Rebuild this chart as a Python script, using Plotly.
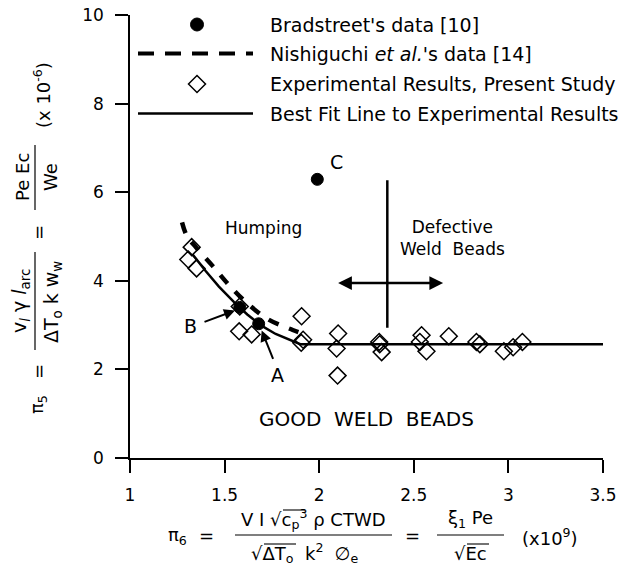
import plotly.graph_objects as go

# ---------------- data ----------------
brad_x = [1.58, 1.68, 1.99]
brad_y = [3.40, 3.03, 6.29]

nishi_x = [1.275, 1.30, 1.35, 1.44, 1.53, 1.62, 1.73, 1.86, 1.89]
nishi_y = [5.32, 5.02, 4.75, 4.32, 3.87, 3.49, 3.13, 2.89, 2.84]

exp_x = [1.326, 1.308, 1.352, 1.58, 1.577, 1.643, 1.907, 1.915, 1.905,
         2.10, 2.092, 2.097, 2.317, 2.32, 2.33, 2.541, 2.532, 2.567,
         2.685, 2.831, 2.849, 2.976, 3.025, 3.074]
exp_y = [4.76, 4.48, 4.28, 3.42, 2.86, 2.79, 3.20, 2.67, 2.60,
         2.81, 2.47, 1.86, 2.62, 2.57, 2.39, 2.77, 2.62, 2.41,
         2.75, 2.62, 2.57, 2.41, 2.50, 2.62]

fit_x = [1.33, 1.40, 1.47, 1.55, 1.62, 1.69, 1.77, 1.85, 1.90, 3.50]
fit_y = [4.60, 4.22, 3.87, 3.52, 3.24, 3.00, 2.80, 2.65, 2.57, 2.57]

x_ticks = [1, 1.5, 2, 2.5, 3, 3.5]
x_ticktext = ["1", "1.5", "2", "2.5", "3", "3.5"]
y_ticks = [0, 2, 4, 6, 8, 10]
y_ticktext = ["0", "2", "4", "6", "8", "10"]

legend_labels = ["Bradstreet's data [10]",
                 "Nishiguchi <i>et al.</i>'s data [14]",
                 "Experimental Results, Present Study",
                 "Best Fit Line to Experimental Results"]

FONT = "DejaVu Sans"
W, H = 633, 576
L, R, T, B = 130, 30, 15, 118
PW, PH = W - L - R, H - T - B


def P(px, py):
    """pixel -> paper coordinates"""
    return (px - L) / PW, (H - B - py) / PH


fig = go.Figure()

fig.add_trace(go.Scatter(x=nishi_x, y=nishi_y, mode="lines",
                         line=dict(color="black", width=4.5, dash="11px,11px", shape="spline"),
                         showlegend=False, hoverinfo="skip"))
fig.add_trace(go.Scatter(x=fit_x, y=fit_y, mode="lines",
                         line=dict(color="black", width=2.5),
                         showlegend=False, hoverinfo="skip"))
fig.add_trace(go.Scatter(x=exp_x, y=exp_y, mode="markers",
                         marker=dict(symbol="diamond-open", size=13, color="black",
                                     line=dict(width=1.5, color="black")),
                         showlegend=False, hoverinfo="skip"))
fig.add_trace(go.Scatter(x=brad_x, y=brad_y, mode="markers",
                         marker=dict(symbol="circle", size=12, color="black",
                                     line=dict(width=1, color="black")),
                         showlegend=False, hoverinfo="skip"))

shapes = []
annotations = []


def hline(a, b, py, w=1.2):
    x0p, yp = P(a, py); x1p, _ = P(b, py)
    shapes.append(dict(type="line", xref="paper", yref="paper", x0=x0p, x1=x1p, y0=yp, y1=yp,
                       line=dict(color="black", width=w)))


def vline(px, a, b, w=1.2):
    xp, y0p = P(px, a); _, y1p = P(px, b)
    shapes.append(dict(type="line", xref="paper", yref="paper", x0=xp, x1=xp, y0=y0p, y1=y1p,
                       line=dict(color="black", width=w)))


# ---- manual legend ----
rows_y = [24.5, 53.5, 84, 113.5]
sym_cx = 197
for i, lab in enumerate(legend_labels):
    px_, py_ = P(268, rows_y[i])
    annotations.append(dict(x=px_, y=py_, xref="paper", yref="paper", text=lab,
                            showarrow=False, xanchor="left", yanchor="middle",
                            font=dict(family=FONT, size=19, color="black")))
ax_, ay_ = P(sym_cx, rows_y[0])
shapes.append(dict(type="circle", xref="paper", yref="paper", xsizemode="pixel", ysizemode="pixel",
                   xanchor=ax_, yanchor=ay_, x0=-6.5, x1=6.5, y0=-6.5, y1=6.5,
                   fillcolor="black", line=dict(color="black", width=1)))
ax_, ay_ = P(sym_cx, rows_y[2])
shapes.append(dict(type="path", xref="paper", yref="paper", xsizemode="pixel", ysizemode="pixel",
                   xanchor=ax_, yanchor=ay_, path="M0,8.5 L8.5,0 L0,-8.5 L-8.5,0 Z",
                   fillcolor="rgba(0,0,0,0)", line=dict(color="black", width=1.5)))
x0p, yp = P(138, rows_y[1]); x1p, _ = P(253, rows_y[1])
shapes.append(dict(type="line", xref="paper", yref="paper", x0=x0p, x1=x1p, y0=yp, y1=yp,
                   line=dict(color="black", width=4, dash="16px,11px")))
hline(138, 253, rows_y[3], 2.5)

# ---- region marks ----
shapes.append(dict(type="line", xref="x", yref="y", x0=2.36, x1=2.36, y0=2.94, y1=6.27,
                   line=dict(color="black", width=2.5)))
annotations.append(dict(x=2.655, y=3.95, ax=2.092, ay=3.95, axref="x", ayref="y",
                        xref="x", yref="y", text="", showarrow=True, arrowside="end+start",
                        arrowhead=2, arrowsize=1.1, arrowwidth=2.5, arrowcolor="black"))
annotations.append(dict(x=1.555, y=3.33, ax=-32, ay=12, xref="x", yref="y", text="",
                        showarrow=True, arrowhead=2, arrowsize=1.1, arrowwidth=2, arrowcolor="black"))
annotations.append(dict(x=1.696, y=2.88, ax=12, ay=30, xref="x", yref="y", text="",
                        showarrow=True, arrowhead=2, arrowsize=1.1, arrowwidth=2, arrowcolor="black"))


def txt(px, py, s, size=18, angle=0, xanchor="center"):
    xp, yp = P(px, py)
    annotations.append(dict(x=xp, y=yp, xref="paper", yref="paper", text=s, showarrow=False,
                            xanchor=xanchor, yanchor="middle", textangle=angle,
                            font=dict(family=FONT, size=size, color="black")))


txt(263, 228, "Humping", 17)
txt(452, 238, "Defective<br>Weld\u00a0\u00a0Beads", 17)
txt(366, 419, "GOOD\u00a0\u00a0WELD\u00a0\u00a0BEADS", 20)
txt(336, 162, "C", 19)
txt(277, 375, "A", 19)
txt(190, 326, "B", 19)

# ---- x axis title (formula) ----
txt(177, 536, "π<sub>6</sub>", 18)
txt(206, 535, "=", 18)
txt(313, 519, "V I √c<sub>p</sub><sup>3</sup> ρ CTWD", 18)
txt(305, 553, "√ΔT<sub>o</sub>  k<sup>2</sup>  ∅<sub>e</sub>", 18)
txt(412, 535, "=", 18)
txt(470, 519, "ξ<sub>1</sub> Pe", 18)
txt(470, 553, "√Ec", 18)
txt(550, 537, "(x10<sup>9</sup>)", 18)
hline(235, 392, 535)
hline(437, 504, 535)
# radical overbars
hline(283, 305, 510, 1.1)
hline(264, 296, 544, 1.1)
hline(467, 489, 544, 1.1)

# ---- y axis title (formula) ----
txt(38, 405, "π<sub>5</sub>", 18, -90)
txt(38, 372, "=", 18, -90)
txt(20, 301, "v<sub><i>l</i></sub> γ <i>l</i><sub>arc</sub>", 19, -90)
txt(52, 302, "ΔT<sub>o</sub> k w<sub>w</sub>", 19, -90)
txt(38, 233, "=", 18, -90)
txt(22, 177, "Pe Ec", 18, -90)
txt(50, 177, "We", 18, -90)
txt(42, 95, "(x 10<sup>-6</sup>)", 18, -90)
vline(35, 252, 350)
vline(35, 145, 210)

fig.update_layout(
    width=W, height=H,
    margin=dict(l=L, r=R, t=T, b=B, autoexpand=False),
    paper_bgcolor="white", plot_bgcolor="white",
    showlegend=False,
    shapes=shapes, annotations=annotations,
    font=dict(family=FONT, size=17, color="black"),
    xaxis=dict(range=[1, 3.5], tickvals=x_ticks, ticktext=x_ticktext, showgrid=False,
               zeroline=False, showline=True, linecolor="black", linewidth=1.5,
               ticks="outside", ticklen=13, tickwidth=1.5, tickcolor="black",
               ticklabelstandoff=8, tickfont=dict(family=FONT, size=17, color="black")),
    yaxis=dict(range=[0, 10], tickvals=y_ticks, ticktext=y_ticktext, showgrid=False,
               zeroline=False, showline=True, linecolor="black", linewidth=1.5,
               ticks="outside", ticklen=13, tickwidth=1.5, tickcolor="black",
               ticklabelstandoff=8, tickfont=dict(family=FONT, size=17, color="black")),
)

fig.write_html("out.html")
